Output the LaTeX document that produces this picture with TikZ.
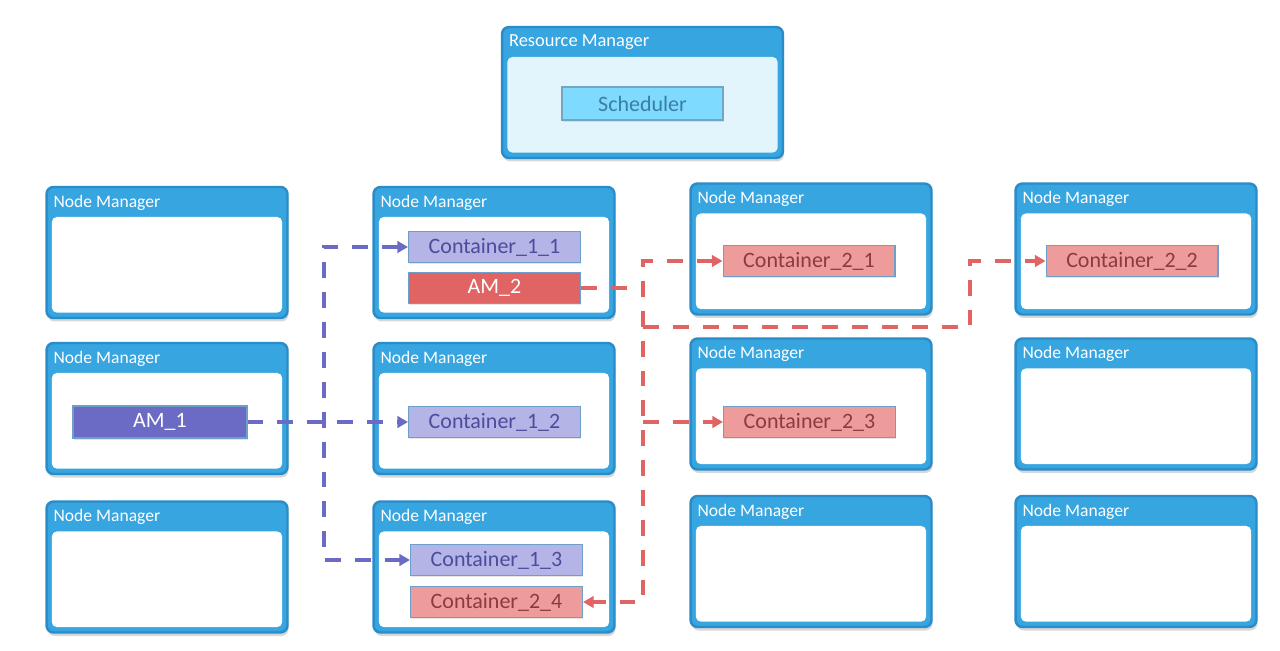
\documentclass[tikz,border=0pt]{standalone}
\usepackage{fontspec}
\setmainfont{Carlito}
\usetikzlibrary{arrows.meta, calc, shadows}
\definecolor{nmblue}{HTML}{36A5E0}
\definecolor{nmedge}{HTML}{2A8CC8}
\definecolor{rmfill}{HTML}{E2F4FC}
\definecolor{schedfill}{HTML}{7FDAFF}
\definecolor{schedtext}{HTML}{3A7FA3}
\definecolor{contedge}{HTML}{6E9FCB}
\definecolor{lilac}{HTML}{B4B4E6}
\definecolor{lilactext}{HTML}{4C4C9C}
\definecolor{amviolet}{HTML}{6B6BC6}
\definecolor{rose}{HTML}{EE9B9B}
\definecolor{rosetext}{HTML}{8E3B3B}
\definecolor{amred}{HTML}{E06464}

\begin{document}
\begin{tikzpicture}[x=0.02cm, y=-0.02cm,
  mgr/.style={rectangle, rounded corners=4pt, fill=nmblue, draw=nmedge, line width=1.4pt,
    minimum width=4.82cm, minimum height=2.62cm,
    drop shadow={opacity=0.3, shadow xshift=0.6pt, shadow yshift=-2pt},
    path picture={\fill[#1, rounded corners=3pt]
      ([shift={(3pt,3pt)}]path picture bounding box.south west) rectangle
      ([shift={(-3pt,-17pt)}]path picture bounding box.north east);}},
  mgr/.default=white,
  hdr/.style={anchor=north west, inner sep=0pt, xshift=4.5pt, yshift=-5pt,
    font=\fontsize{10}{11}\selectfont, text=white},
  cont/.style={rectangle, draw=contedge, fill=#1, line width=0.6pt,
    minimum width=3.44cm, minimum height=0.62cm, font=\fontsize{12.5}{14}\selectfont,
    drop shadow={opacity=0.2, shadow xshift=0.5pt, shadow yshift=-1pt}},
  pflow/.style={draw=amviolet, line width=2.6pt, dash pattern=on 9pt off 8pt},
  rflow/.style={draw=amred, line width=2.6pt, dash pattern=on 9pt off 8pt},
  Tri/.tip={Triangle[length=6pt, width=6.5pt]},
]
  \useasboundingbox[fill=white] (0,0) rectangle (1280,651);

  % Resource Manager
  \node[mgr=rmfill, minimum width=5.62cm, label={[hdr, font=\fontsize{10.5}{12}\selectfont]north west:Resource Manager}] (rm) at (642.5,92.5) {};
  \node[cont=schedfill, text=schedtext, draw=schedtext!70, minimum width=3.22cm, minimum height=0.66cm] (sched) at (642.5,103.5) {Scheduler};

  % Node Managers, column by column
  \node[mgr, label={[hdr]north west:Node Manager}] (nm11) at (167,252.5) {};
  \node[mgr, label={[hdr]north west:Node Manager}] (nm12) at (167,408.5) {};
  \node[mgr, label={[hdr]north west:Node Manager}] (nm13) at (167,567) {};
  \node[mgr, label={[hdr]north west:Node Manager}] (nm21) at (494,252.5) {};
  \node[mgr, label={[hdr]north west:Node Manager}] (nm22) at (494,408.5) {};
  \node[mgr, label={[hdr]north west:Node Manager}] (nm23) at (494,567) {};
  \node[mgr, label={[hdr]north west:Node Manager}] (nm31) at (811,249) {};
  \node[mgr, label={[hdr]north west:Node Manager}] (nm32) at (811,404) {};
  \node[mgr, label={[hdr]north west:Node Manager}] (nm33) at (811,561.5) {};
  \node[mgr, label={[hdr]north west:Node Manager}] (nm41) at (1136,249) {};
  \node[mgr, label={[hdr]north west:Node Manager}] (nm42) at (1136,404) {};
  \node[mgr, label={[hdr]north west:Node Manager}] (nm43) at (1136,561.5) {};

  % Application masters and containers
  \node[cont=amviolet, text=white, minimum width=3.48cm, minimum height=0.64cm] (am1) at (160,422) {AM\_1};
  \node[cont=amred, text=white] (am2) at (494.5,288) {AM\_2};
  \node[cont=lilac, text=lilactext] (c11) at (494.5,247) {Container\_1\_1};
  \node[cont=lilac, text=lilactext] (c12) at (494.5,422) {Container\_1\_2};
  \node[cont=lilac, text=lilactext] (c13) at (496.5,560) {Container\_1\_3};
  \node[cont=rose, text=rosetext] (c21) at (809,261) {Container\_2\_1};
  \node[cont=rose, text=rosetext] (c22) at (1132,261) {Container\_2\_2};
  \node[cont=rose, text=rosetext] (c23) at (809.5,422) {Container\_2\_3};
  \node[cont=rose, text=rosetext] (c24) at (496.5,602) {Container\_2\_4};

  % AM_1 requests
  \coordinate (pTop) at (324,247);
  \coordinate (pBot) at (324,560);
  \draw[pflow, Tri-Tri] (c11) -- (pTop) -- (pBot) -- (c13);
  \draw[pflow, -Tri] (am1) -- (c12);

  % AM_2 requests
  \coordinate (rTop) at (643,261);
  \coordinate (rBot) at (643,602);
  \coordinate (rMid) at (643,327);
  \coordinate (rFar) at (970,327);
  \coordinate (rHook) at (970,261);
  \coordinate (rSide) at (643,422);
  \draw[rflow, Tri-Tri] (c21) -- (rTop) -- (rBot) -- (c24);
  \draw[rflow] (am2) -- (am2 -| rTop);
  \draw[rflow, -Tri] (rMid) -- (rFar) -- (rHook) -- (c22);
  \draw[rflow, -Tri] (rSide) -- (c23);
\end{tikzpicture}
\end{document}
